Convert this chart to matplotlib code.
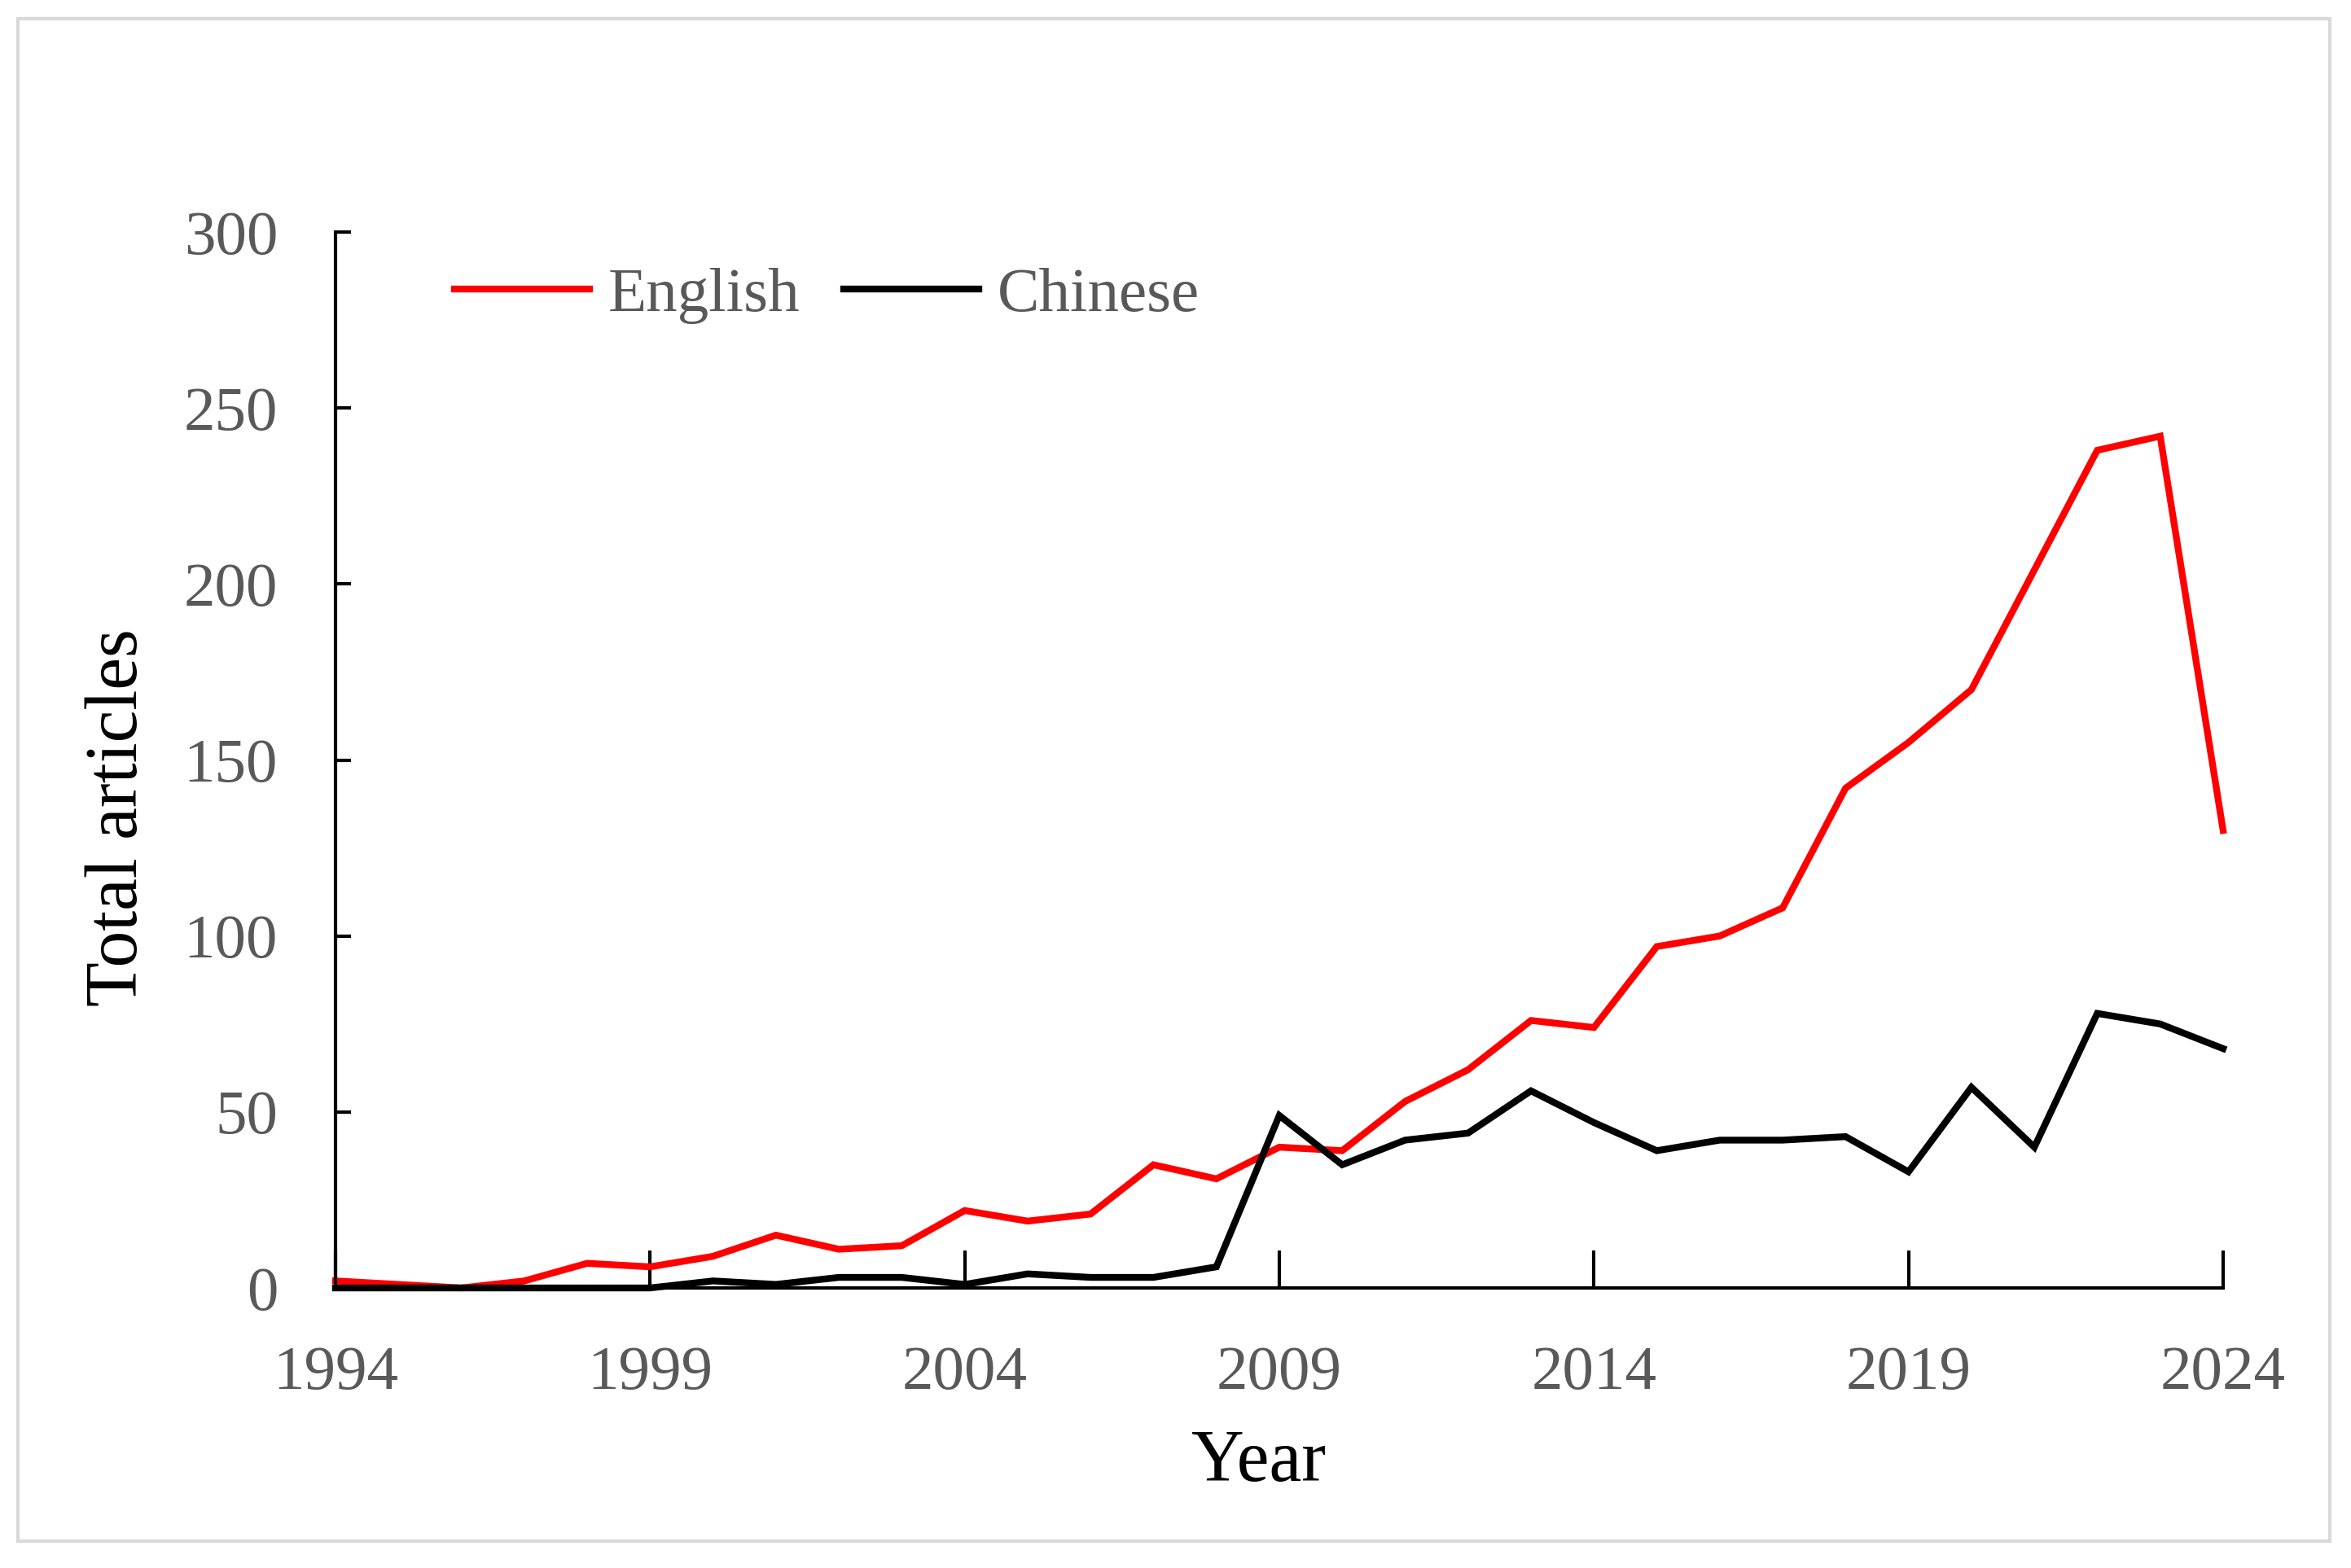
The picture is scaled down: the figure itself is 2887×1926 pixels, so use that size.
import matplotlib
matplotlib.use('Agg')
import matplotlib.pyplot as plt
from matplotlib.patches import Rectangle

years = list(range(1994, 2025))
english = [2, 1, 0, 2, 7, 6, 9, 15, 11, 12, 22, 19, 21, 35, 31, 40,
           39, 53, 62, 76, 74, 97, 100, 108, 142, 155, 170, 204, 238, 242, 130]
chinese = [0, 0, 0, 0, 0, 0, 2, 1, 3, 3, 1, 4, 3, 3, 6, 49,
           35, 42, 44, 56, 47, 39, 42, 42, 43, 33, 57, 40, 78, 75, 68]
xticks = [1994, 1999, 2004, 2009, 2014, 2019, 2024]
yticks = [0, 50, 100, 150, 200, 250, 300]

plt.rcParams['font.family'] = ['Liberation Serif', 'DejaVu Serif']
grey = '#595959'

fig = plt.figure(figsize=(2887 / 300, 1926 / 300), dpi=300)
ax = fig.add_axes([0.1427, 0.1786, 0.8029, 0.6734])

ax.plot(years, english, color='#ff0000', lw=2.0, label='English',
        solid_joinstyle='miter', clip_on=False)
ax.plot(years, chinese, color='black', lw=2.0, label='Chinese',
        solid_joinstyle='miter', clip_on=False)

ax.set_xlim(1994, 2024)
ax.set_ylim(0, 300)
ax.set_xticks(xticks)
ax.set_yticks(yticks)
ax.spines['top'].set_visible(False)
ax.spines['right'].set_visible(False)
for s in ['left', 'bottom']:
    ax.spines[s].set_linewidth(1.0)
ax.tick_params(axis='x', direction='in', length=11, width=1.0, pad=17,
               labelsize=18.5, labelcolor=grey)
ax.tick_params(axis='y', direction='in', length=4.5, width=1.0, pad=17,
               labelsize=18.5, labelcolor=grey)

ax.set_xlabel('Year', fontsize=21.5)
ax.set_ylabel('Total articles', fontsize=21.5)
ax.xaxis.set_label_coords(0.489, -0.134)
ax.yaxis.set_label_coords(-0.097, 0.446)

leg = ax.legend(loc='upper left', bbox_to_anchor=(0.033, 1.02), ncol=2, frameon=False,
                fontsize=18.5, handlelength=2.15, handletextpad=0.3, columnspacing=0.7)
for t in leg.get_texts():
    t.set_color(grey)

fig.patches.append(Rectangle((22 / 2887, 1 - 1893 / 1926), (2861 - 22) / 2887, (1893 - 23) / 1926,
                             transform=fig.transFigure, fill=False, edgecolor='#d9d9d9', lw=1.0))

fig.savefig('out.png', dpi=300, facecolor='white')
